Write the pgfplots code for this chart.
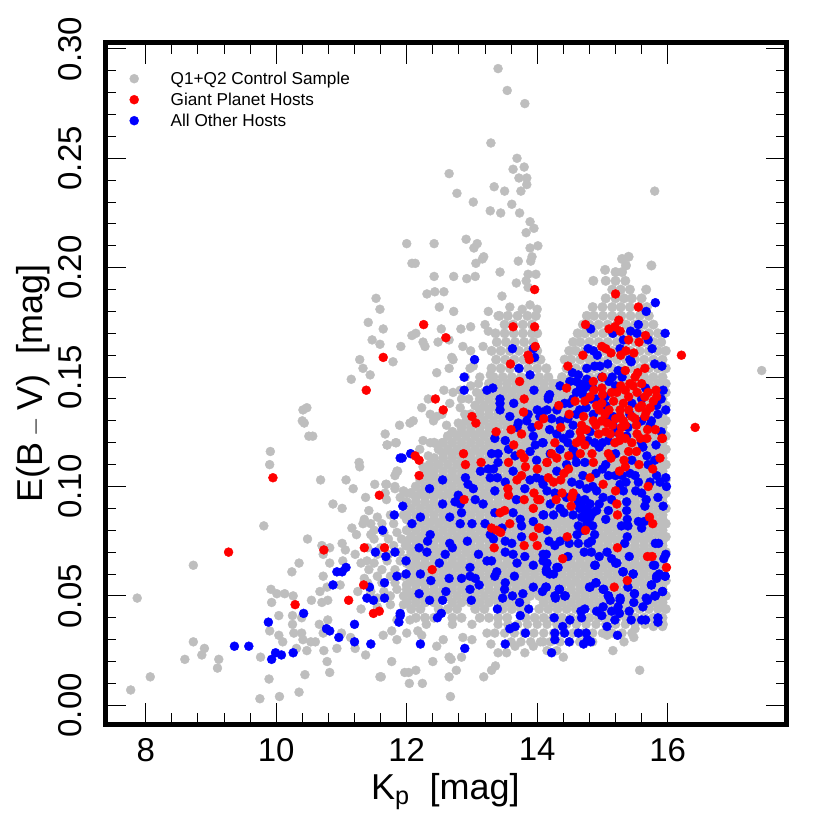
\documentclass[border=0pt]{standalone}
\usepackage{pgfplots}
\pgfplotsset{compat=1.18}
\usepackage{fontspec}
\setmainfont{Liberation Sans}
\definecolor{cg}{HTML}{BEBEBE}
\begin{document}
\begin{tikzpicture}[x=1bp,y=1bp]
\path[use as bounding box] (-105.5bp,-106bp) rectangle ++(830bp,830bp);
\begin{axis}[at={(0,0)},anchor=south west,scale only axis,width=681bp,height=681bp,
xmin=7.384,xmax=17.82,ymin=-0.00855,ymax=0.3027,
axis line style={line width=5bp},
xtick={8,10,12,14,16},ytick={0,0.05,0.1,0.15,0.2,0.25,0.3},
minor x tick num=4,minor y tick num=4,
tick style={line width=1bp,black},
major tick length=21bp,minor tick length=11bp,
tick align=inside,
/pgf/number format/assume math mode=true,
yticklabel style={/pgf/number format/fixed,/pgf/number format/fixed zerofill,/pgf/number format/precision=2,rotate=90,anchor=south,inner sep=0pt,yshift=23.5bp,font=\fontsize{33bp}{36bp}\selectfont},
xticklabel style={anchor=north,inner sep=0pt,yshift=-14bp,font=\fontsize{33bp}{36bp}\selectfont},
scaled y ticks=false,
every axis x label/.style={at={(axis description cs:0.499,0)},anchor=base,yshift=-75bp,font=\fontsize{36bp}{40bp}\selectfont},
every axis y label/.style={at={(axis description cs:0,0.5)},rotate=90,anchor=base,yshift=63bp,font=\fontsize{36bp}{40bp}\selectfont},
xlabel={K$_{\mathrm{p}}$\ \ [mag]},
ylabel={E(B\,$-$\,V)\ \ [mag]},
legend cell align=left,
legend style={draw=none,fill=none,at={(24bp,656bp)},anchor=north west,font=\fontsize{17.2bp}{21bp}\selectfont,row sep=0pt,inner sep=0pt,
nodes={inner sep=0pt,minimum height=21bp},/tikz/column 1/.style={column sep=32bp}},
]
\addlegendimage{only marks,mark=*,mark size=4.5bp,color=cg}
\addlegendentry{Q1+Q2 Control Sample}
\addlegendimage{only marks,mark=*,mark size=4.5bp,color=red}
\addlegendentry{Giant Planet Hosts}
\addlegendimage{only marks,mark=*,mark size=4.5bp,color=blue}
\addlegendentry{All Other Hosts}
% control sample: outlying points
\addplot[forget plot,only marks,mark=*,mark size=4.5bp,color=cg] coordinates {
(13.40,.291)(13.54,.281)(13.81,.275)(13.29,.257)(12.65,.243)(13.69,.250)(13.80,.246)(13.63,.245)(12.77,.234)(13.02,.230)(13.72,.241)(13.84,.241)(13.84,.238)(13.34,.237)(15.80,.235)(13.50,.235)(13.28,.226)(13.75,.235)(13.61,.229)(13.44,.225)(13.73,.225)(13.89,.221)(13.95,.218)(12.00,.211)(12.91,.213)(13.08,.211)(13.18,.205)(12.08,.202)(12.13,.202)(13.89,.209)(14.01,.210)(13.83,.216)(17.44,.153)
(11.53,.186)(11.59,.181)(11.41,.175)(11.64,.172)(12.42,.211)(13.03,.209)(13.16,.204)(13.06,.202)(13.71,.203)(13.92,.205)(13.90,.203)(13.43,.198)(12.42,.196)(12.72,.196)(12.92,.195)(13.05,.196)(13.86,.197)(13.98,.197)(13.68,.193)(13.83,.194)(13.86,.191)(12.31,.188)(12.43,.189)(12.57,.189)(13.46,.187)(12.50,.182)(12.72,.180)(13.25,.180)(13.89,.183)(14.00,.181)(13.58,.182)(13.77,.181)(13.40,.178)(12.53,.172)(12.83,.172)(12.98,.173)(13.20,.174)(13.25,.171)(12.14,.170)(12.08,.169)(12.25,.166)(12.28,.164)(11.91,.164)(12.48,.166)(12.65,.167)(12.86,.164)(12.98,.162)(13.17,.164)(12.69,.159)(12.71,.158)(11.79,.157)(12.65,.154)(12.46,.152)(12.97,.154)(13.02,.155)(13.12,.150)(13.28,.151)(12.57,.144)(12.71,.143)(12.33,.140)(12.82,.144)(13.07,.143)
(11.15,.149)(11.33,.154)(11.59,.165)(11.47,.167)(11.28,.158)(11.44,.151)(10.41,.135)(10.47,.136)(10.40,.130)(10.43,.129)(10.50,.123)(10.56,.123)(9.91,.116)(9.90,.110)
(10.68,.103)(11.07,.103)(11.18,.099)(11.27,.111)(11.28,.109)(10.87,.092)(11.01,.090)(11.42,.089)(11.37,.095)(11.51,.101)(11.68,.101)(11.70,.119)(11.83,.120)(11.85,.107)(11.82,.100)(9.81,.082)(10.48,.076)(10.70,.073)(10.82,.072)(10.72,.069)(10.35,.065)(10.24,.061)(8.73,.064)(10.82,.065)(11.01,.074)(11.06,.071)(11.16,.081)(11.23,.078)(11.33,.083)(11.45,.083)(11.50,.080)(10.72,.059)(11.02,.066)(11.21,.069)(11.39,.066)(10.98,.055)(10.67,.052)(10.78,.054)(9.92,.053)(10.01,.051)(10.13,.051)(10.26,.050)(9.93,.047)(10.54,.048)(10.70,.047)(10.79,.048)(10.04,.041)(10.25,.041)(10.25,.037)(10.39,.040)(10.66,.037)(10.79,.039)(9.90,.034)(10.04,.032)(10.27,.033)(10.39,.033)(10.10,.029)(10.41,.030)(10.53,.029)(10.60,.029)(10.72,.033)(11.00,.033)(11.14,.031)(8.73,.029)(8.90,.026)(8.86,.023)(8.60,.021)(9.12,.021)(9.10,.017)(8.07,.013)(7.77,.007)(7.87,.049)(9.76,.022)(9.89,.012)(9.75,.003)(10.05,.004)(10.35,.006)(10.44,.014)(10.82,.015)(10.78,.020)(10.47,.025)(10.73,.025)(10.93,.026)(11.21,.026)(11.37,.023)(11.59,.013)(11.77,.020)(10.31,.026)
(12.40,.020)(12.65,.022)(12.68,.021)(12.84,.022)(12.76,.016)(12.65,.013)(12.14,.016)(11.97,.015)(12.03,.015)(12.04,.010)(12.24,.010)(11.61,.013)(12.67,.004)(13.18,.013)(13.30,.016)(13.36,.018)(15.57,.016)(15.16,.025)(15.33,.029)(14.40,.022)(13.81,.024)(13.53,.024)(13.40,.024)(13.29,.028)(13.66,.027)(13.94,.027)(14.09,.029)(14.15,.025)(14.30,.025)(11.85,.030)(12.56,.030)(12.46,.027)(12.86,.031)(13.00,.030)(13.23,.033)(13.35,.033)(11.64,.032)(12.17,.034)(12.23,.032)(12.00,.033)(11.77,.034)(15.48,.031)(15.07,.032)(15.78,.036)(15.92,.036)(15.50,.035)
(11.35,.085)(11.55,.086)(11.75,.087)(11.95,.087)(11.45,.078)(11.65,.079)(11.85,.079)(11.40,.072)(11.60,.072)(11.80,.073)(11.98,.073)(11.30,.065)(11.50,.065)(11.70,.066)(11.90,.066)(11.35,.058)(11.55,.059)(11.75,.059)(11.95,.059)(11.25,.052)(11.45,.052)(11.65,.052)(11.85,.053)(11.55,.045)(11.75,.046)(11.95,.046)(11.30,.044)(11.85,.039)(12.05,.039)
(11.50,.076)(11.72,.076)(11.92,.076)(11.62,.062)(11.82,.062)(11.42,.062)(11.55,.069)(11.72,.069)(11.90,.070)(11.62,.056)(11.82,.056)(11.40,.056)(11.55,.049)(11.75,.050)(11.95,.050)(11.80,.083)(11.62,.083)(12.00,.097)(11.90,.095)
(12.23,.136)(12.36,.133)(12.41,.130)(12.10,.130)(11.89,.128)(12.05,.129)(12.61,.128)(12.25,.121)(12.36,.120)(12.54,.120)(11.67,.124)(11.70,.119)(11.84,.120)(11.86,.107)(11.82,.105)(11.69,.101)(11.82,.099)(11.95,.098)(12.05,.097)(11.67,.097)(11.69,.094)(12.46,.132)(12.54,.133)(12.66,.138)(12.82,.136)(12.89,.133)(12.79,.129)(12.84,.140)(12.20,.117)(12.33,.114)(12.25,.109)(12.30,.106)(12.41,.107)(12.48,.110)(12.95,.140)(12.98,.146)(13.10,.147)(12.90,.150)
(12.3,.037)(12.7,.037)(13.0,.037)(13.4,.037)(13.55,.037)(13.7,.037)(13.85,.037)(14.0,.037)(14.15,.037)(14.3,.037)(14.45,.037)(14.6,.037)(14.75,.037)(14.9,.037)(15.05,.037)(15.2,.037)(15.35,.037)(15.5,.037)(15.65,.037)(15.8,.037)(15.93,.037)
(13.5,.033)(13.65,.033)(13.8,.033)(13.95,.033)(14.1,.033)(14.25,.033)(14.4,.033)(14.55,.033)(14.7,.033)(14.85,.033)(15.0,.033)(15.15,.033)(15.3,.033)(15.45,.033)
(13.6,.029)(13.75,.029)(13.9,.029)(14.05,.029)(14.2,.029)(14.35,.029)(14.5,.029)(14.65,.029)(14.85,.029)
};
% control sample: the dense cloud
\addplot[forget plot,only marks,mark=*,mark size=4.8bp,color=cg] coordinates {
(15.3,.204)(15.4,.205)(15.36,.201)(15.75,.201)(15.04,.199)(15.2,.198)(15.3,.198)
(14.86,.194)(15.05,.194)(15.2,.194)(15.35,.194)
(15.15,.190)(15.28,.190)(15.42,.190)(15.67,.190)
(15.05,.186)(15.2,.186)(15.33,.186)(15.45,.186)(15.6,.186)
(14.85,.182)(15.0,.182)(15.15,.182)(15.28,.182)(15.42,.182)(15.56,.182)(15.68,.182)
(13.42,.178)(13.55,.178)(13.7,.178)(13.85,.178)(13.98,.178)(14.76,.178)(14.87,.178)(15.01,.178)(15.15,.178)(15.29,.178)(15.43,.178)(15.57,.178)(15.71,.178)
(13.5,.174)(13.63,.174)(13.78,.174)(13.92,.174)(14.7,.174)(14.8,.174)(14.94,.174)(15.08,.174)(15.22,.174)(15.36,.174)(15.5,.174)(15.64,.174)(15.78,.174)
(13.36,.170)(13.5,.170)(13.64,.170)(13.78,.170)(13.92,.170)(14.0,.170)(14.62,.170)(14.73,.170)(14.87,.170)(15.01,.170)(15.15,.170)(15.29,.170)(15.43,.170)(15.57,.170)(15.71,.170)(15.85,.170)
(13.38,.166)(13.52,.166)(13.66,.166)(13.8,.166)(13.94,.166)(14.55,.166)(14.66,.166)(14.8,.166)(14.94,.166)(15.08,.166)(15.22,.166)(15.36,.166)(15.5,.166)(15.64,.166)(15.78,.166)(15.9,.166)
(13.3,.162)(13.44,.162)(13.58,.162)(13.72,.162)(13.86,.162)(14.0,.162)(14.49,.162)(14.59,.162)(14.73,.162)(14.87,.162)(15.01,.162)(15.15,.162)(15.29,.162)(15.43,.162)(15.57,.162)(15.71,.162)(15.85,.162)(15.97,.162)
(13.37,.158)(13.51,.158)(13.65,.158)(13.79,.158)(13.93,.158)(14.05,.158)(14.42,.158)(14.52,.158)(14.66,.158)(14.8,.158)(14.94,.158)(15.08,.158)(15.22,.158)(15.36,.158)(15.5,.158)(15.64,.158)(15.78,.158)(15.92,.158)
(13.3,.154)(13.44,.154)(13.58,.154)(13.72,.154)(13.86,.154)(14.0,.154)(14.14,.154)(14.45,.154)(14.59,.154)(14.73,.154)(14.87,.154)(15.01,.154)(15.15,.154)(15.29,.154)(15.43,.154)(15.57,.154)(15.71,.154)(15.85,.154)(15.97,.154)
(13.33,.150)(13.47,.150)(13.61,.150)(13.75,.150)(13.89,.150)(14.03,.150)(14.17,.150)(14.38,.150)(14.52,.150)(14.66,.150)(14.80,.150)(14.94,.150)(15.08,.150)(15.22,.150)(15.36,.150)(15.50,.150)(15.64,.150)(15.78,.150)(15.92,.150)
(13.26,.147)(13.40,.147)(13.54,.147)(13.68,.147)(13.82,.147)(13.96,.147)(14.10,.147)(14.24,.147)(14.31,.147)(14.45,.147)(14.59,.147)(14.73,.147)(14.87,.147)(15.01,.147)(15.15,.147)(15.29,.147)(15.43,.147)(15.57,.147)(15.71,.147)(15.85,.147)(15.97,.147)
(13.26,.145)(13.40,.145)(13.54,.145)(13.68,.145)(13.82,.145)(13.96,.145)(14.10,.145)(14.24,.145)(14.38,.145)(14.52,.145)(14.66,.145)(14.80,.145)(14.94,.145)(15.08,.145)(15.22,.145)(15.36,.145)(15.50,.145)(15.64,.145)(15.78,.145)(15.92,.145)
(13.19,.143)(13.33,.143)(13.47,.143)(13.61,.143)(13.75,.143)(13.89,.143)(14.03,.143)(14.17,.143)(14.31,.143)(14.45,.143)(14.59,.143)(14.73,.143)(14.87,.143)(15.01,.143)(15.15,.143)(15.29,.143)(15.43,.143)(15.57,.143)(15.71,.143)(15.85,.143)(15.97,.143)
(13.12,.140)(13.26,.140)(13.40,.140)(13.54,.140)(13.68,.140)(13.82,.140)(13.96,.140)(14.10,.140)(14.24,.140)(14.38,.140)(14.52,.140)(14.66,.140)(14.80,.140)(14.94,.140)(15.08,.140)(15.22,.140)(15.36,.140)(15.50,.140)(15.64,.140)(15.78,.140)(15.92,.140)
(13.05,.137)(13.19,.137)(13.33,.137)(13.47,.137)(13.61,.137)(13.75,.137)(13.89,.137)(14.03,.137)(14.17,.137)(14.31,.137)(14.45,.137)(14.59,.137)(14.73,.137)(14.87,.137)(15.01,.137)(15.15,.137)(15.29,.137)(15.43,.137)(15.57,.137)(15.71,.137)(15.85,.137)(15.97,.137)
(13.12,.135)(13.26,.135)(13.40,.135)(13.54,.135)(13.68,.135)(13.82,.135)(13.96,.135)(14.10,.135)(14.24,.135)(14.38,.135)(14.52,.135)(14.66,.135)(14.80,.135)(14.94,.135)(15.08,.135)(15.22,.135)(15.36,.135)(15.50,.135)(15.64,.135)(15.78,.135)(15.92,.135)
(12.98,.133)(13.12,.133)(13.26,.133)(13.40,.133)(13.54,.133)(13.68,.133)(13.82,.133)(13.96,.133)(14.10,.133)(14.24,.133)(14.38,.133)(14.52,.133)(14.66,.133)(14.80,.133)(14.94,.133)(15.08,.133)(15.22,.133)(15.36,.133)(15.50,.133)(15.64,.133)(15.78,.133)(15.92,.133)
(12.91,.130)(13.05,.130)(13.19,.130)(13.33,.130)(13.47,.130)(13.61,.130)(13.75,.130)(13.89,.130)(14.03,.130)(14.17,.130)(14.31,.130)(14.45,.130)(14.59,.130)(14.73,.130)(14.87,.130)(15.01,.130)(15.15,.130)(15.29,.130)(15.43,.130)(15.57,.130)(15.71,.130)(15.85,.130)(15.97,.130)
(12.84,.127)(12.98,.127)(13.12,.127)(13.26,.127)(13.40,.127)(13.54,.127)(13.68,.127)(13.82,.127)(13.96,.127)(14.10,.127)(14.24,.127)(14.38,.127)(14.52,.127)(14.66,.127)(14.80,.127)(14.94,.127)(15.08,.127)(15.22,.127)(15.36,.127)(15.50,.127)(15.64,.127)(15.78,.127)(15.92,.127)
(12.70,.125)(12.84,.125)(12.98,.125)(13.12,.125)(13.26,.125)(13.40,.125)(13.54,.125)(13.68,.125)(13.82,.125)(13.96,.125)(14.10,.125)(14.24,.125)(14.38,.125)(14.52,.125)(14.66,.125)(14.80,.125)(14.94,.125)(15.08,.125)(15.22,.125)(15.36,.125)(15.50,.125)(15.64,.125)(15.78,.125)(15.92,.125)
(12.63,.123)(12.77,.123)(12.91,.123)(13.05,.123)(13.19,.123)(13.33,.123)(13.47,.123)(13.61,.123)(13.75,.123)(13.89,.123)(14.03,.123)(14.17,.123)(14.31,.123)(14.45,.123)(14.59,.123)(14.73,.123)(14.87,.123)(15.01,.123)(15.15,.123)(15.29,.123)(15.43,.123)(15.57,.123)(15.71,.123)(15.85,.123)(15.97,.123)
(12.42,.120)(12.56,.120)(12.70,.120)(12.84,.120)(12.98,.120)(13.12,.120)(13.26,.120)(13.40,.120)(13.54,.120)(13.68,.120)(13.82,.120)(13.96,.120)(14.10,.120)(14.24,.120)(14.38,.120)(14.52,.120)(14.66,.120)(14.80,.120)(14.94,.120)(15.08,.120)(15.22,.120)(15.36,.120)(15.50,.120)(15.64,.120)(15.78,.120)(15.92,.120)
(12.49,.117)(12.63,.117)(12.77,.117)(12.91,.117)(13.05,.117)(13.19,.117)(13.33,.117)(13.47,.117)(13.61,.117)(13.75,.117)(13.89,.117)(14.03,.117)(14.17,.117)(14.31,.117)(14.45,.117)(14.59,.117)(14.73,.117)(14.87,.117)(15.01,.117)(15.15,.117)(15.29,.117)(15.43,.117)(15.57,.117)(15.71,.117)(15.85,.117)(15.97,.117)
(12.56,.115)(12.70,.115)(12.84,.115)(12.98,.115)(13.12,.115)(13.26,.115)(13.40,.115)(13.54,.115)(13.68,.115)(13.82,.115)(13.96,.115)(14.10,.115)(14.24,.115)(14.38,.115)(14.52,.115)(14.66,.115)(14.80,.115)(14.94,.115)(15.08,.115)(15.22,.115)(15.36,.115)(15.50,.115)(15.64,.115)(15.78,.115)(15.92,.115)
(12.42,.113)(12.56,.113)(12.70,.113)(12.84,.113)(12.98,.113)(13.12,.113)(13.26,.113)(13.40,.113)(13.54,.113)(13.68,.113)(13.82,.113)(13.96,.113)(14.10,.113)(14.24,.113)(14.38,.113)(14.52,.113)(14.66,.113)(14.80,.113)(14.94,.113)(15.08,.113)(15.22,.113)(15.36,.113)(15.50,.113)(15.64,.113)(15.78,.113)(15.92,.113)
(12.35,.110)(12.49,.110)(12.63,.110)(12.77,.110)(12.91,.110)(13.05,.110)(13.19,.110)(13.33,.110)(13.47,.110)(13.61,.110)(13.75,.110)(13.89,.110)(14.03,.110)(14.17,.110)(14.31,.110)(14.45,.110)(14.59,.110)(14.73,.110)(14.87,.110)(15.01,.110)(15.15,.110)(15.29,.110)(15.43,.110)(15.57,.110)(15.71,.110)(15.85,.110)(15.97,.110)
(12.28,.107)(12.42,.107)(12.56,.107)(12.70,.107)(12.84,.107)(12.98,.107)(13.12,.107)(13.26,.107)(13.40,.107)(13.54,.107)(13.68,.107)(13.82,.107)(13.96,.107)(14.10,.107)(14.24,.107)(14.38,.107)(14.52,.107)(14.66,.107)(14.80,.107)(14.94,.107)(15.08,.107)(15.22,.107)(15.36,.107)(15.50,.107)(15.64,.107)(15.78,.107)(15.92,.107)
(12.28,.105)(12.42,.105)(12.56,.105)(12.70,.105)(12.84,.105)(12.98,.105)(13.12,.105)(13.26,.105)(13.40,.105)(13.54,.105)(13.68,.105)(13.82,.105)(13.96,.105)(14.10,.105)(14.24,.105)(14.38,.105)(14.52,.105)(14.66,.105)(14.80,.105)(14.94,.105)(15.08,.105)(15.22,.105)(15.36,.105)(15.50,.105)(15.64,.105)(15.78,.105)(15.92,.105)
(12.21,.103)(12.35,.103)(12.49,.103)(12.63,.103)(12.77,.103)(12.91,.103)(13.05,.103)(13.19,.103)(13.33,.103)(13.47,.103)(13.61,.103)(13.75,.103)(13.89,.103)(14.03,.103)(14.17,.103)(14.31,.103)(14.45,.103)(14.59,.103)(14.73,.103)(14.87,.103)(15.01,.103)(15.15,.103)(15.29,.103)(15.43,.103)(15.57,.103)(15.71,.103)(15.85,.103)(15.97,.103)
(12.14,.100)(12.28,.100)(12.42,.100)(12.56,.100)(12.70,.100)(12.84,.100)(12.98,.100)(13.12,.100)(13.26,.100)(13.40,.100)(13.54,.100)(13.68,.100)(13.82,.100)(13.96,.100)(14.10,.100)(14.24,.100)(14.38,.100)(14.52,.100)(14.66,.100)(14.80,.100)(14.94,.100)(15.08,.100)(15.22,.100)(15.36,.100)(15.50,.100)(15.64,.100)(15.78,.100)(15.92,.100)
(12.07,.097)(12.21,.097)(12.35,.097)(12.49,.097)(12.63,.097)(12.77,.097)(12.91,.097)(13.05,.097)(13.19,.097)(13.33,.097)(13.47,.097)(13.61,.097)(13.75,.097)(13.89,.097)(14.03,.097)(14.17,.097)(14.31,.097)(14.45,.097)(14.59,.097)(14.73,.097)(14.87,.097)(15.01,.097)(15.15,.097)(15.29,.097)(15.43,.097)(15.57,.097)(15.71,.097)(15.85,.097)(15.97,.097)
(12.14,.095)(12.28,.095)(12.42,.095)(12.56,.095)(12.70,.095)(12.84,.095)(12.98,.095)(13.12,.095)(13.26,.095)(13.40,.095)(13.54,.095)(13.68,.095)(13.82,.095)(13.96,.095)(14.10,.095)(14.24,.095)(14.38,.095)(14.52,.095)(14.66,.095)(14.80,.095)(14.94,.095)(15.08,.095)(15.22,.095)(15.36,.095)(15.50,.095)(15.64,.095)(15.78,.095)(15.92,.095)
(12.00,.093)(12.14,.093)(12.28,.093)(12.42,.093)(12.56,.093)(12.70,.093)(12.84,.093)(12.98,.093)(13.12,.093)(13.26,.093)(13.40,.093)(13.54,.093)(13.68,.093)(13.82,.093)(13.96,.093)(14.10,.093)(14.24,.093)(14.38,.093)(14.52,.093)(14.66,.093)(14.80,.093)(14.94,.093)(15.08,.093)(15.22,.093)(15.36,.093)(15.50,.093)(15.64,.093)(15.78,.093)(15.92,.093)
(12.07,.090)(12.21,.090)(12.35,.090)(12.49,.090)(12.63,.090)(12.77,.090)(12.91,.090)(13.05,.090)(13.19,.090)(13.33,.090)(13.47,.090)(13.61,.090)(13.75,.090)(13.89,.090)(14.03,.090)(14.17,.090)(14.31,.090)(14.45,.090)(14.59,.090)(14.73,.090)(14.87,.090)(15.01,.090)(15.15,.090)(15.29,.090)(15.43,.090)(15.57,.090)(15.71,.090)(15.85,.090)(15.97,.090)
(12.00,.087)(12.14,.087)(12.28,.087)(12.42,.087)(12.56,.087)(12.70,.087)(12.84,.087)(12.98,.087)(13.12,.087)(13.26,.087)(13.40,.087)(13.54,.087)(13.68,.087)(13.82,.087)(13.96,.087)(14.10,.087)(14.24,.087)(14.38,.087)(14.52,.087)(14.66,.087)(14.80,.087)(14.94,.087)(15.08,.087)(15.22,.087)(15.36,.087)(15.50,.087)(15.64,.087)(15.78,.087)(15.92,.087)
(12.00,.085)(12.14,.085)(12.28,.085)(12.42,.085)(12.56,.085)(12.70,.085)(12.84,.085)(12.98,.085)(13.12,.085)(13.26,.085)(13.40,.085)(13.54,.085)(13.68,.085)(13.82,.085)(13.96,.085)(14.10,.085)(14.24,.085)(14.38,.085)(14.52,.085)(14.66,.085)(14.80,.085)(14.94,.085)(15.08,.085)(15.22,.085)(15.36,.085)(15.50,.085)(15.64,.085)(15.78,.085)(15.92,.085)
(12.07,.083)(12.21,.083)(12.35,.083)(12.49,.083)(12.63,.083)(12.77,.083)(12.91,.083)(13.05,.083)(13.19,.083)(13.33,.083)(13.47,.083)(13.61,.083)(13.75,.083)(13.89,.083)(14.03,.083)(14.17,.083)(14.31,.083)(14.45,.083)(14.59,.083)(14.73,.083)(14.87,.083)(15.01,.083)(15.15,.083)(15.29,.083)(15.43,.083)(15.57,.083)(15.71,.083)(15.85,.083)(15.97,.083)
(12.00,.080)(12.14,.080)(12.28,.080)(12.42,.080)(12.56,.080)(12.70,.080)(12.84,.080)(12.98,.080)(13.12,.080)(13.26,.080)(13.40,.080)(13.54,.080)(13.68,.080)(13.82,.080)(13.96,.080)(14.10,.080)(14.24,.080)(14.38,.080)(14.52,.080)(14.66,.080)(14.80,.080)(14.94,.080)(15.08,.080)(15.22,.080)(15.36,.080)(15.50,.080)(15.64,.080)(15.78,.080)(15.92,.080)
(12.07,.077)(12.21,.077)(12.35,.077)(12.49,.077)(12.63,.077)(12.77,.077)(12.91,.077)(13.05,.077)(13.19,.077)(13.33,.077)(13.47,.077)(13.61,.077)(13.75,.077)(13.89,.077)(14.03,.077)(14.17,.077)(14.31,.077)(14.45,.077)(14.59,.077)(14.73,.077)(14.87,.077)(15.01,.077)(15.15,.077)(15.29,.077)(15.43,.077)(15.57,.077)(15.71,.077)(15.85,.077)(15.97,.077)
(12.00,.075)(12.14,.075)(12.28,.075)(12.42,.075)(12.56,.075)(12.70,.075)(12.84,.075)(12.98,.075)(13.12,.075)(13.26,.075)(13.40,.075)(13.54,.075)(13.68,.075)(13.82,.075)(13.96,.075)(14.10,.075)(14.24,.075)(14.38,.075)(14.52,.075)(14.66,.075)(14.80,.075)(14.94,.075)(15.08,.075)(15.22,.075)(15.36,.075)(15.50,.075)(15.64,.075)(15.78,.075)(15.92,.075)
(12.00,.073)(12.14,.073)(12.28,.073)(12.42,.073)(12.56,.073)(12.70,.073)(12.84,.073)(12.98,.073)(13.12,.073)(13.26,.073)(13.40,.073)(13.54,.073)(13.68,.073)(13.82,.073)(13.96,.073)(14.10,.073)(14.24,.073)(14.38,.073)(14.52,.073)(14.66,.073)(14.80,.073)(14.94,.073)(15.08,.073)(15.22,.073)(15.36,.073)(15.50,.073)(15.64,.073)(15.78,.073)(15.92,.073)
(12.07,.070)(12.21,.070)(12.35,.070)(12.49,.070)(12.63,.070)(12.77,.070)(12.91,.070)(13.05,.070)(13.19,.070)(13.33,.070)(13.47,.070)(13.61,.070)(13.75,.070)(13.89,.070)(14.03,.070)(14.17,.070)(14.31,.070)(14.45,.070)(14.59,.070)(14.73,.070)(14.87,.070)(15.01,.070)(15.15,.070)(15.29,.070)(15.43,.070)(15.57,.070)(15.71,.070)(15.85,.070)(15.97,.070)
(12.00,.067)(12.14,.067)(12.28,.067)(12.42,.067)(12.56,.067)(12.70,.067)(12.84,.067)(12.98,.067)(13.12,.067)(13.26,.067)(13.40,.067)(13.54,.067)(13.68,.067)(13.82,.067)(13.96,.067)(14.10,.067)(14.24,.067)(14.38,.067)(14.52,.067)(14.66,.067)(14.80,.067)(14.94,.067)(15.08,.067)(15.22,.067)(15.36,.067)(15.50,.067)(15.64,.067)(15.78,.067)(15.92,.067)
(12.00,.065)(12.14,.065)(12.28,.065)(12.42,.065)(12.56,.065)(12.70,.065)(12.84,.065)(12.98,.065)(13.12,.065)(13.26,.065)(13.40,.065)(13.54,.065)(13.68,.065)(13.82,.065)(13.96,.065)(14.10,.065)(14.24,.065)(14.38,.065)(14.52,.065)(14.66,.065)(14.80,.065)(14.94,.065)(15.08,.065)(15.22,.065)(15.36,.065)(15.50,.065)(15.64,.065)(15.78,.065)(15.92,.065)
(12.07,.063)(12.21,.063)(12.35,.063)(12.49,.063)(12.63,.063)(12.77,.063)(12.91,.063)(13.05,.063)(13.19,.063)(13.33,.063)(13.47,.063)(13.61,.063)(13.75,.063)(13.89,.063)(14.03,.063)(14.17,.063)(14.31,.063)(14.45,.063)(14.59,.063)(14.73,.063)(14.87,.063)(15.01,.063)(15.15,.063)(15.29,.063)(15.43,.063)(15.57,.063)(15.71,.063)(15.85,.063)(15.97,.063)
(12.00,.060)(12.14,.060)(12.28,.060)(12.42,.060)(12.56,.060)(12.70,.060)(12.84,.060)(12.98,.060)(13.12,.060)(13.26,.060)(13.40,.060)(13.54,.060)(13.68,.060)(13.82,.060)(13.96,.060)(14.10,.060)(14.24,.060)(14.38,.060)(14.52,.060)(14.66,.060)(14.80,.060)(14.94,.060)(15.08,.060)(15.22,.060)(15.36,.060)(15.50,.060)(15.64,.060)(15.78,.060)(15.92,.060)
(12.07,.057)(12.21,.057)(12.35,.057)(12.49,.057)(12.63,.057)(12.77,.057)(12.91,.057)(13.05,.057)(13.19,.057)(13.33,.057)(13.47,.057)(13.61,.057)(13.75,.057)(13.89,.057)(14.03,.057)(14.17,.057)(14.31,.057)(14.45,.057)(14.59,.057)(14.73,.057)(14.87,.057)(15.01,.057)(15.15,.057)(15.29,.057)(15.43,.057)(15.57,.057)(15.71,.057)(15.85,.057)(15.97,.057)
(12.00,.055)(12.14,.055)(12.28,.055)(12.42,.055)(12.56,.055)(12.70,.055)(12.84,.055)(12.98,.055)(13.12,.055)(13.26,.055)(13.40,.055)(13.54,.055)(13.68,.055)(13.82,.055)(13.96,.055)(14.10,.055)(14.24,.055)(14.38,.055)(14.52,.055)(14.66,.055)(14.80,.055)(14.94,.055)(15.08,.055)(15.22,.055)(15.36,.055)(15.50,.055)(15.64,.055)(15.78,.055)(15.92,.055)
(12.00,.053)(12.14,.053)(12.28,.053)(12.42,.053)(12.56,.053)(12.70,.053)(12.84,.053)(12.98,.053)(13.12,.053)(13.26,.053)(13.40,.053)(13.54,.053)(13.68,.053)(13.82,.053)(13.96,.053)(14.10,.053)(14.24,.053)(14.38,.053)(14.52,.053)(14.66,.053)(14.80,.053)(14.94,.053)(15.08,.053)(15.22,.053)(15.36,.053)(15.50,.053)(15.64,.053)(15.78,.053)(15.92,.053)
(12.07,.050)(12.21,.050)(12.35,.050)(12.49,.050)(12.63,.050)(12.77,.050)(12.91,.050)(13.05,.050)(13.19,.050)(13.33,.050)(13.47,.050)(13.61,.050)(13.75,.050)(13.89,.050)(14.03,.050)(14.17,.050)(14.31,.050)(14.45,.050)(14.59,.050)(14.73,.050)(14.87,.050)(15.01,.050)(15.15,.050)(15.29,.050)(15.43,.050)(15.57,.050)(15.71,.050)(15.85,.050)(15.97,.050)
(12.00,.047)(12.14,.047)(12.28,.047)(12.42,.047)(12.70,.047)(12.84,.047)(12.98,.047)(13.12,.047)(13.26,.047)(13.40,.047)(13.54,.047)(13.68,.047)(13.82,.047)(14.10,.047)(14.24,.047)(14.38,.047)(14.52,.047)(14.66,.047)(14.80,.047)(14.94,.047)(15.08,.047)(15.22,.047)(15.36,.047)(15.50,.047)(15.64,.047)(15.78,.047)(15.92,.047)
(12.07,.044)(12.21,.044)(12.49,.044)(12.63,.044)(12.77,.044)(13.05,.044)(13.19,.044)(13.47,.044)(13.61,.044)(13.75,.044)(14.03,.044)(14.17,.044)(14.31,.044)(14.45,.044)(14.59,.044)(14.87,.044)(15.01,.044)(15.15,.044)(15.29,.044)(15.43,.044)(15.57,.044)(15.71,.044)(15.85,.044)(15.97,.044)
(12.14,.040)(12.28,.040)(12.42,.040)(12.70,.040)(12.84,.040)(13.12,.040)(13.26,.040)(13.40,.040)(13.54,.040)(13.82,.040)(13.96,.040)(14.10,.040)(14.24,.040)(14.38,.040)(14.52,.040)(14.66,.040)(14.80,.040)(14.94,.040)(15.08,.040)(15.22,.040)(15.36,.040)(15.50,.040)(15.64,.040)(15.78,.040)(15.92,.040)
};
% all other hosts
\addplot[forget plot,only marks,mark=*,mark size=4.5bp,color=blue] coordinates {
(9.36,.027)(9.58,.027)(9.93,.021)(9.99,.024)(10.08,.023)(10.26,.024)(9.88,.038)(10.42,.042)(10.77,.035)(10.82,.034)(10.96,.031)(11.20,.029)(11.45,.028)(11.20,.037)(10.87,.055)(10.93,.061)(11.01,.061)(11.07,.063)(11.52,.070)(11.68,.068)(11.82,.070)(11.43,.054)(11.66,.056)(11.85,.059)(11.39,.049)(11.49,.048)(11.66,.049)(11.63,.080)(11.81,.087)(11.90,.042)(11.88,.038)(11.90,.113)
(13.04,.158)(13.62,.163)(12.88,.150)(12.88,.144)(13.23,.144)(13.32,.145)(13.72,.154)(13.89,.151)(13.95,.144)(13.94,.163)(13.96,.159)(13.43,.140)(14.17,.141)
(13.43,.138)(13.64,.138)(13.43,.135)(13.58,.132)(13.86,.133)(14.00,.135)(14.04,.132)(13.71,.129)(13.84,.130)(13.69,.127)(13.92,.127)(13.94,.123)(13.35,.122)(13.51,.121)(13.97,.119)(14.08,.120)(13.56,.117)(13.30,.115)(13.40,.115)(13.66,.114)(13.89,.116)(13.99,.112)(13.40,.111)(13.63,.107)(13.13,.107)(13.25,.108)(13.33,.108)(13.28,.104)(13.39,.104)(13.51,.102)(12.90,.104)(12.94,.101)(13.02,.099)(13.05,.094)(12.55,.103)(12.35,.099)(11.93,.113)(12.06,.115)(13.35,.098)(13.89,.103)(13.99,.104)(14.09,.101)(13.81,.099)(13.68,.094)(12.79,.096)(12.74,.093)(12.82,.092)(12.55,.092)(11.94,.091)(12.08,.083)(12.21,.086)(12.66,.086)(12.84,.088)(13.17,.092)(13.35,.088)(13.63,.088)(12.82,.083)(13.00,.083)(13.20,.083)(13.74,.085)(13.94,.084)(14.09,.087)(13.76,.082)(13.46,.081)(12.36,.078)(12.32,.075)(12.19,.072)(12.31,.070)(12.66,.074)(12.70,.072)(12.59,.069)(12.93,.075)(13.10,.069)(13.28,.078)(13.33,.076)(13.51,.075)(13.76,.077)(13.61,.074)(13.51,.070)(13.63,.069)(14.09,.069)(13.81,.068)(11.99,.066)(12.50,.065)(12.97,.063)(13.23,.066)(13.30,.066)(13.69,.065)(13.94,.064)(14.15,.065)
(12.97,.059)(13.38,.061)(13.35,.059)(13.65,.059)(14.14,.061)(14.30,.063)(14.19,.060)(14.89,.064)(15.22,.065)(15.78,.064)(15.47,.060)(15.32,.061)(15.96,.059)(15.83,.059)(11.99,.060)(12.21,.060)(12.37,.057)(12.65,.058)(12.84,.058)(13.05,.058)(13.11,.055)(13.51,.056)(13.50,.053)(13.94,.054)(14.14,.054)(14.08,.052)(13.78,.051)(13.62,.050)(13.47,.049)(13.73,.047)(12.97,.053)(12.60,.052)(12.19,.051)(12.35,.048)(12.55,.048)(12.99,.048)(14.34,.053)(14.43,.050)(14.28,.049)(14.80,.054)(14.90,.056)(15.02,.053)(15.09,.050)(15.12,.048)(15.27,.048)(15.49,.051)(15.39,.054)(15.81,.050)(15.92,.052)(15.75,.055)(15.48,.047)(15.69,.048)(15.62,.045)(15.24,.045)(15.01,.045)(14.91,.043)(14.73,.044)(14.67,.043)(13.87,.044)(13.39,.044)(12.53,.042)(11.90,.041)(12.47,.040)(13.74,.041)(14.26,.040)(14.50,.039)(14.68,.040)(14.99,.041)(15.14,.043)(15.26,.042)(15.19,.039)(15.41,.043)(15.44,.039)(15.60,.039)(15.66,.039)(15.85,.040)(15.85,.038)(15.07,.036)(14.39,.036)(13.66,.036)(13.58,.035)(13.82,.033)(14.27,.033)(14.27,.030)(14.42,.033)(14.63,.033)(14.75,.033)(14.77,.030)(14.82,.029)(14.71,.028)(14.49,.029)(15.23,.032)(12.21,.028)(13.51,.028)(12.89,.026)(14.22,.024)
(14.09,.120)(14.35,.117)(14.47,.120)(14.55,.117)(14.78,.121)(14.88,.120)(15.09,.121)(15.37,.123)(15.62,.118)(15.82,.119)(15.68,.114)(14.73,.111)(14.60,.111)(15.00,.108)(15.09,.105)(15.42,.106)(15.83,.105)(15.97,.104)(15.88,.102)(15.98,.100)(15.55,.102)(15.36,.102)(15.27,.101)(14.53,.102)(14.65,.101)(15.73,.102)(14.15,.098)(14.07,.103)(14.27,.097)(14.76,.099)(14.91,.098)(15.01,.095)(15.14,.094)(15.32,.098)(15.51,.098)(15.60,.097)(15.85,.095)(15.67,.094)(15.65,.091)(15.93,.091)(15.37,.093)(14.63,.093)(14.73,.094)(14.81,.092)(14.65,.090)(14.91,.089)(15.09,.089)(15.37,.089)(14.10,.087)(14.25,.087)(14.41,.088)(14.55,.087)(14.73,.087)(14.81,.086)(15.05,.085)(15.38,.085)(15.55,.084)(15.64,.084)(15.60,.081)(15.39,.082)(15.29,.082)(14.63,.082)(14.76,.083)(14.15,.080)(14.61,.078)(14.88,.078)(14.83,.075)(14.78,.074)(14.63,.074)(14.49,.074)(14.35,.075)(14.18,.075)(14.27,.073)(15.38,.077)(15.34,.074)(15.81,.074)(15.86,.074)(14.14,.069)(14.47,.068)(14.72,.070)(14.83,.070)(14.95,.068)(15.07,.070)(15.14,.067)(15.41,.068)(15.97,.069)(15.94,.067)(15.80,.064)(15.20,.065)(14.88,.064)(14.09,.066)(14.14,.062)(14.25,.060)(14.32,.063)(15.31,.061)(15.47,.060)(15.87,.060)(15.83,.058)(15.96,.059)(15.75,.055)(14.90,.056)(14.81,.054)(14.13,.054)(14.34,.053)(15.01,.053)(15.09,.050)(15.49,.051)(15.92,.052)(15.80,.050)(15.27,.049)(15.67,.049)(14.42,.050)(14.27,.050)
(15.81,.184)(15.67,.180)(14.82,.172)(15.55,.174)(15.16,.170)(15.43,.171)(15.53,.170)(15.96,.170)(15.70,.167)(15.32,.167)(15.27,.163)(14.78,.163)(14.86,.162)(14.92,.160)(15.76,.163)(15.42,.158)(15.44,.157)(15.08,.156)(14.88,.155)(14.96,.155)(14.76,.154)(15.80,.156)(15.91,.155)(15.24,.153)(14.54,.152)(14.63,.151)(14.50,.148)(14.35,.146)(14.76,.149)(14.99,.150)(14.70,.146)(14.65,.144)(15.66,.145)(15.93,.144)(14.19,.142)(14.17,.140)(14.55,.140)(14.42,.138)(14.83,.140)(15.04,.141)(15.83,.137)(15.97,.135)(14.65,.135)(15.16,.132)(15.42,.133)(15.85,.133)(14.08,.134)(14.22,.131)(14.47,.131)(14.86,.133)(14.55,.128)(14.81,.125)(14.19,.126)(14.30,.124)(15.39,.127)(15.73,.128)(15.16,.128)(14.50,.124)
(14.60,.095)(14.66,.092)(14.70,.090)(14.76,.090)(14.80,.088)(14.85,.088)(14.68,.086)(14.75,.085)(14.78,.083)(14.85,.082)(14.70,.080)(14.60,.148)(14.65,.147)(14.72,.145)(14.60,.143)(14.70,.142)(14.78,.146)(14.85,.145)(14.15,.135)(14.30,.135)(14.35,.130)(14.50,.138)(14.60,.133)(14.75,.136)(14.90,.140)(15.10,.148)(15.15,.150)(15.30,.150)(15.20,.146)(15.05,.137)(15.10,.130)(15.20,.125)(15.45,.138)(15.60,.140)(15.60,.130)(15.75,.130)(15.90,.140)(15.90,.125)(15.60,.120)(15.00,.120)(14.95,.118)(15.20,.115)(15.45,.112)(15.70,.110)(15.30,.105)(15.05,.110)(14.90,.106)(14.70,.105)(14.45,.110)(14.30,.107)(14.20,.092)(14.35,.090)(14.45,.095)(14.20,.115)(14.40,.122)(14.58,.114)(14.85,.100)(14.95,.092)(15.20,.105)(15.50,.105)(15.80,.112)
};
% giant planet hosts
\addplot[forget plot,only marks,mark=*,mark size=4.5bp,color=red] coordinates {
(9.95,.104)(9.27,.070)(10.29,.046)(10.73,.071)(11.35,.072)(11.66,.072)(11.58,.096)(11.34,.055)(11.11,.048)(11.49,.042)(11.58,.043)(13.96,.190)(13.63,.173)(13.96,.173)(12.26,.174)(12.60,.168)(11.64,.159)(13.97,.164)(13.86,.160)(13.88,.158)(13.59,.156)(13.73,.148)(12.44,.140)(13.80,.140)(11.38,.144)(16.42,.127)(16.21,.160)
(15.20,.188)(15.55,.182)(14.74,.174)(15.25,.176)(15.10,.172)(15.19,.173)(15.27,.171)(15.66,.169)(15.40,.167)(15.56,.166)(14.99,.164)(15.05,.163)(15.13,.161)(14.70,.160)(15.36,.162)(15.28,.160)(15.48,.161)(14.47,.155)(15.35,.153)(15.65,.154)(15.54,.152)(15.50,.150)(14.86,.148)(15.00,.150)(14.45,.145)(14.99,.145)(14.87,.144)(15.28,.146)(15.42,.147)(15.47,.146)(15.14,.143)(15.22,.143)(15.53,.143)(15.82,.144)(14.81,.141)(14.73,.139)(14.58,.139)(14.33,.137)(15.65,.141)(15.83,.141)(15.40,.141)(15.78,.139)(15.17,.139)(15.32,.138)(14.99,.138)(14.91,.137)(15.73,.136)(15.56,.136)(14.49,.133)(14.71,.132)(15.27,.135)(15.67,.134)(15.04,.133)(15.27,.132)(15.65,.132)(15.32,.130)(15.50,.131)(14.86,.130)(14.99,.130)(14.68,.128)(14.36,.127)(15.07,.129)(15.29,.127)(15.52,.128)(15.81,.126)(15.69,.126)(14.66,.125)(14.94,.124)(15.12,.124)(15.26,.124)(15.53,.124)(15.91,.122)(14.67,.122)(15.26,.121)
(14.27,.120)(14.66,.121)(14.73,.119)(15.19,.120)(15.45,.120)(15.68,.122)(15.92,.122)(15.52,.116)(15.40,.116)(15.09,.115)(14.84,.115)(14.66,.115)(14.48,.114)(14.22,.115)(14.30,.113)(14.15,.111)(15.13,.113)(15.88,.113)(15.33,.112)(14.86,.111)(15.56,.110)(15.35,.109)(15.77,.108)(15.26,.107)(14.48,.108)(14.41,.106)(14.81,.104)(14.17,.104)(14.25,.102)(14.36,.103)(15.01,.101)(15.70,.100)(15.20,.098)(14.38,.097)(14.55,.097)(14.29,.094)(14.53,.095)(15.22,.092)(14.52,.091)(15.23,.087)(15.72,.086)(15.77,.083)(14.74,.080)(14.46,.077)(15.23,.072)(15.69,.068)(15.76,.068)(14.39,.067)(15.98,.063)(15.38,.057)(15.18,.054)(14.04,.094)(14.04,.081)
(12.56,.135)(13.00,.132)(13.06,.129)(13.79,.134)(14.10,.131)(14.02,.128)(13.37,.125)(13.60,.126)(13.76,.124)(13.64,.119)(12.87,.115)(13.75,.115)(13.80,.113)(12.13,.114)(12.19,.112)(12.90,.110)(13.14,.111)(13.56,.111)(13.82,.109)(14.15,.111)(14.00,.108)(12.19,.105)(13.76,.105)(13.69,.103)(13.55,.099)(13.56,.096)(13.95,.097)(14.01,.094)(13.80,.094)(12.88,.094)(13.94,.090)(13.50,.089)(13.43,.088)(13.58,.083)(14.02,.081)(13.30,.081)(13.38,.080)(13.44,.079)(13.94,.077)(13.80,.073)(14.00,.073)(13.34,.072)(12.39,.062)
(15.10,.135)(15.35,.128)(15.40,.135)(15.60,.137)(14.95,.135)(15.15,.128)(15.20,.131)(14.75,.126)(14.60,.120)(14.90,.128)(15.05,.125)(15.35,.122)(15.58,.122)(15.45,.132)(15.00,.142)(15.35,.144)(15.60,.147)(15.70,.143)
};
\end{axis}
\end{tikzpicture}
\end{document}
